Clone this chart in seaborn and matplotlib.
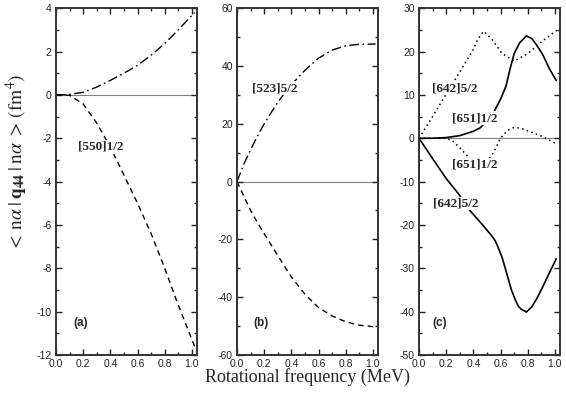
import seaborn as sns
import matplotlib.pyplot as plt
from matplotlib.ticker import MultipleLocator

# panel (a)
xa = [0, 0.1, 0.2, 0.3, 0.4, 0.5, 0.6, 0.7, 0.8, 0.9, 1.02]
a_523 = [0, 0.02, 0.12, 0.36, 0.67, 1.0, 1.36, 1.83, 2.37, 3.0, 3.8]
a_550 = [0, -0.02, -0.42, -1.3, -2.4, -3.7, -5.0, -6.4, -8.0, -9.7, -11.6]

# panel (b)
xb = [0, 0.05, 0.1, 0.15, 0.2, 0.3, 0.4, 0.5, 0.6, 0.7, 0.8, 0.9, 1.02]
b_523 = [0, 6.0, 11.0, 15.7, 20.0, 27.5, 33.5, 38.5, 42.7, 45.5, 47.0, 47.5, 47.6]
b_550 = [0, -5.0, -10.0, -14.2, -18.0, -25.6, -33.0, -39.0, -43.6, -46.5, -48.5, -49.7, -50.3]

# panel (c)
xc_642_dot = [0, 0.1, 0.2, 0.3, 0.4, 0.43, 0.475, 0.54, 0.61, 0.7, 0.8, 0.9, 1.0, 1.02]
c_642_dot = [0, 5.0, 10.2, 15.3, 20.5, 22.7, 24.7, 22.7, 19.6, 17.8, 19.5, 22.2, 24.6, 25.0]
xc_651_sol = [0, 0.1, 0.2, 0.3, 0.4, 0.45, 0.5, 0.55, 0.6, 0.64, 0.67, 0.7, 0.74, 0.79, 0.83, 0.87, 0.91, 0.96, 1.01]
c_651_sol = [0, 0.0, 0.15, 0.6, 1.6, 2.4, 4.0, 6.0, 9.0, 12.0, 16.0, 19.5, 22.0, 23.6, 23.0, 21.3, 19.3, 16.0, 13.3]
xc_651_dot = [0, 0.1, 0.2, 0.25, 0.3, 0.35, 0.4, 0.45, 0.5, 0.55, 0.6, 0.65, 0.7, 0.75, 0.8, 0.9, 1.0]
c_651_dot = [0, 0, 0, -0.7, -2.2, -3.9, -5.6, -6.2, -5.4, -3.2, 0.0, 1.8, 2.5, 2.3, 1.7, 0.5, -1.1]
xc_642_sol = [0, 0.1, 0.2, 0.29, 0.375, 0.46, 0.5, 0.53, 0.56, 0.58, 0.61, 0.63, 0.66, 0.68, 0.71,
              0.73, 0.75, 0.79, 0.83, 0.87, 0.91, 0.96, 1.01]
c_642_sol = [0, -4.7, -9.3, -12.8, -16.7, -19.7, -21.2, -22.3, -23.6, -25.0, -27.4, -29.5, -32.8, -35.0, -37.4,
             -38.7, -39.4, -40.1, -38.9, -36.8, -34.3, -31.0, -27.8]

sns.set_style("ticks")
plt.rcParams['font.family'] = ['Liberation Sans', 'DejaVu Sans']
plt.rcParams['mathtext.fontset'] = 'stix'
plt.rcParams['axes.unicode_minus'] = False

fig = plt.figure(figsize=(5.66, 3.95), dpi=100)
w, h, b = 0.249, 0.878, 0.1013
ax_a = fig.add_axes([0.0989, b, w, h])
ax_b = fig.add_axes([0.4187, b, w, h])
ax_c = fig.add_axes([0.7403, b, w, h])

dashdot = (0, (7, 2.5, 1.2, 2.5))
dashed = (0, (4, 3))
dotted = (0, (1, 2.2))

sns.lineplot(x=xa, y=a_523, ax=ax_a, color='black', lw=1.0, linestyle=dashdot)
sns.lineplot(x=xa, y=a_550, ax=ax_a, color='black', lw=1.0, linestyle=dashed)
sns.lineplot(x=xb, y=b_523, ax=ax_b, color='black', lw=1.0, linestyle=dashdot)
sns.lineplot(x=xb, y=b_550, ax=ax_b, color='black', lw=1.0, linestyle=dashed)
sns.lineplot(x=xc_642_dot, y=c_642_dot, ax=ax_c, color='black', lw=1.1, linestyle=dotted)
sns.lineplot(x=xc_651_sol, y=c_651_sol, ax=ax_c, color='black', lw=1.2)
sns.lineplot(x=xc_651_dot, y=c_651_dot, ax=ax_c, color='black', lw=1.1, linestyle=dotted)
sns.lineplot(x=xc_642_sol, y=c_642_sol, ax=ax_c, color='black', lw=1.2)

limits = [(ax_a, (-12, 4), 2, 1), (ax_b, (-60, 60), 20, 10), (ax_c, (-50, 30), 10, 5)]
for ax, ylim, major, minor in limits:
    ax.axhline(0, color='gray', lw=0.8, zorder=0)
    ax.set_xlim(0, 1.037)
    ax.set_ylim(*ylim)
    ax.xaxis.set_major_locator(MultipleLocator(0.2))
    ax.xaxis.set_minor_locator(MultipleLocator(0.1))
    ax.yaxis.set_major_locator(MultipleLocator(major))
    ax.yaxis.set_minor_locator(MultipleLocator(minor))
    ax.xaxis.set_major_formatter(plt.FormatStrFormatter('%.1f'))
    ax.tick_params(which='both', direction='in', top=True, right=True, width=1.0,
                   labelsize=7.5, colors='#222222', pad=3)
    ax.tick_params(which='major', length=4)
    ax.tick_params(which='minor', length=2)
    for s in ax.spines.values():
        s.set_linewidth(1.4)
        s.set_color('#333333')
    ax.set_xlabel('')
    ax.set_ylabel('')

lab = dict(family=['Liberation Serif'], fontsize=9.5, fontweight='bold', va='center', ha='left',
           bbox=dict(fc='white', ec='none', pad=0.6))
ax_a.text(0.16, -2.4, '[550]1/2', **lab)
ax_b.text(0.11, 32.3, '[523]5/2', **lab)
ax_c.text(0.096, 11.5, '[642]5/2', **lab)
ax_c.text(0.24, 4.6, '[651]1/2', **lab)
ax_c.text(0.24, -6.1, '[651]1/2', **lab)
ax_c.text(0.10, -15.1, '[642]5/2', **lab)

for ax, s, xp in [(ax_a, '(a)', 0.12), (ax_b, '(b)', 0.113), (ax_c, '(c)', 0.092)]:
    ax.text(xp, 0.092, s, transform=ax.transAxes, fontsize=8.5, fontweight='bold',
            va='center', ha='left')

fig.text(0.544, 0.046, 'Rotational frequency (MeV)', family=['Liberation Serif'],
         fontsize=13, ha='center', va='center')
fig.text(0.03, 0.59,
         r'$<\,\mathrm{n}\alpha\;|\,\mathbf{q}_{\mathbf{44}}\,|\;\mathrm{n}\alpha\;>\,(\mathrm{fm}^{4})$',
         fontsize=14, rotation=90, ha='center', va='center')

fig.savefig('out.png', dpi=100)
